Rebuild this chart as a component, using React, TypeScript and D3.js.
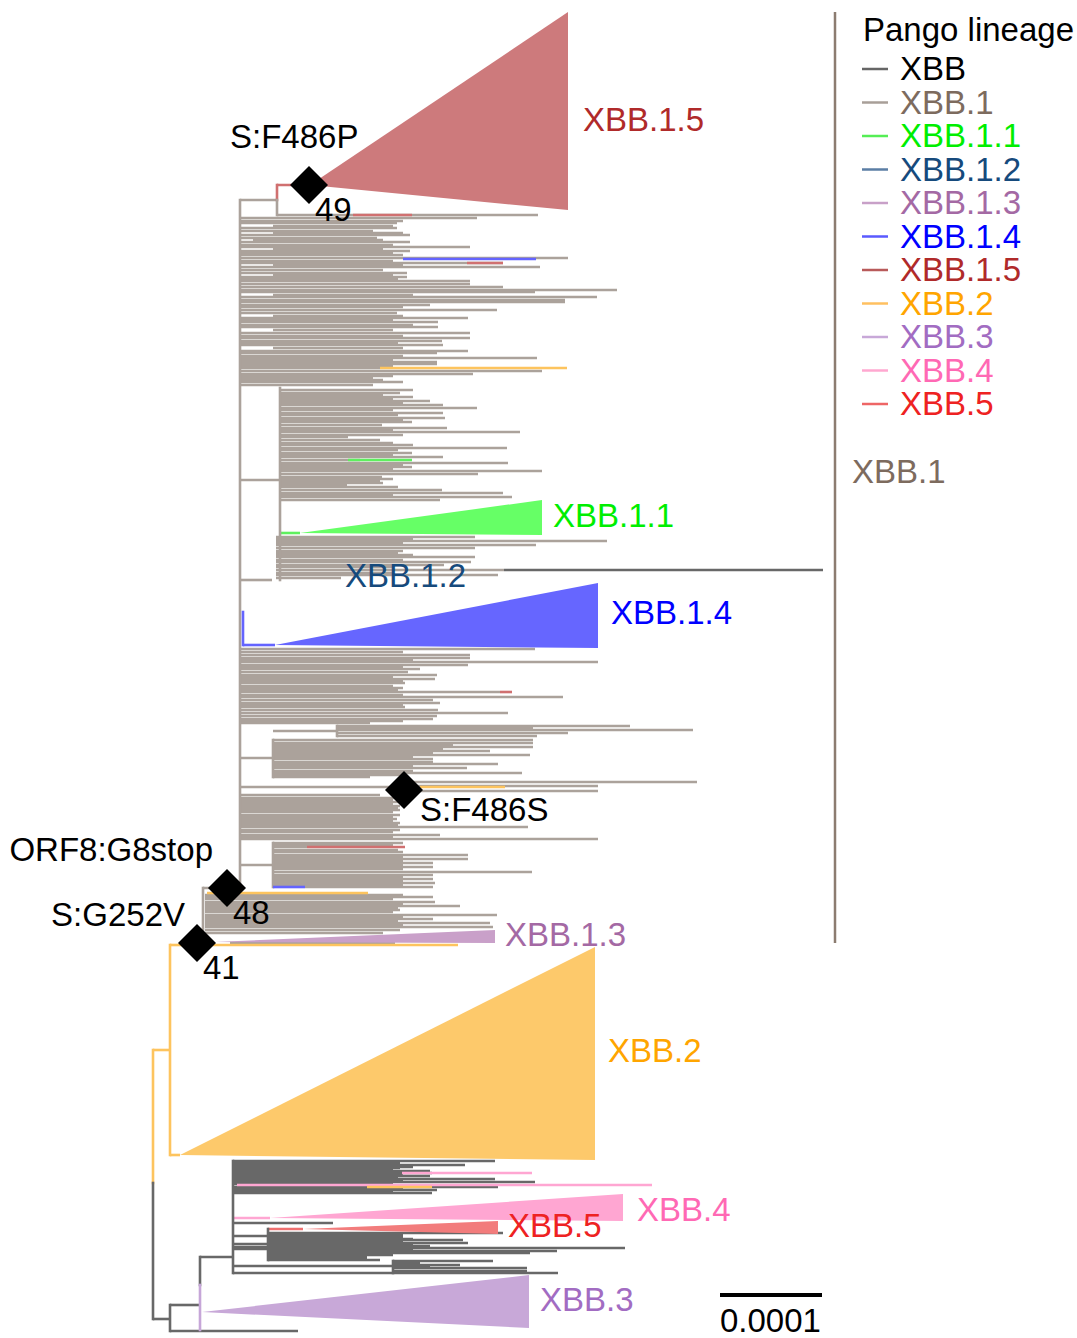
import React from "react";
import * as d3 from "d3";

// ---------- categories ----------
const LINEAGES = ["XBB", "XBB.1", "XBB.1.1", "XBB.1.2", "XBB.1.3", "XBB.1.4", "XBB.1.5", "XBB.2", "XBB.3", "XBB.4", "XBB.5"];

// ---------- tree data (distance units: root = 0, 102 units = 0.0001 subs/site; y = tip row) ----------
type Leaf = [number, number, number]; // [tipRow, fromDist, toDist]

const XBB1_LEAVES: Leaf[] = [
  [215,124,385],[218,88,324],[221,88,250],[223,88,244],[226,120,240],[228,88,244],[231,88,220],[233,120,250],[235,88,257],[238,88,224],[240,100,230],[242,88,257],[245,88,240],[247,88,317],[249,120,230],[251,88,257],[253,88,240],[255,88,250],[258,88,415],[261,88,240],[263,88,350],[265,120,250],[267,88,387],[270,88,230],[273,88,254],[275,120,240],[277,88,254],[279,88,245],[281,88,317],[284,88,317],[287,88,350],[290,88,464],[292,88,382],[295,120,260],[297,88,444],[300,88,412],[302,88,412],[305,88,277],[307,88,250],[310,88,344],[313,88,244],[316,120,250],[318,88,315],[320,88,240],[322,88,285],[325,88,260],[327,88,285],[330,120,240],[333,88,317],[336,88,250],[338,88,317],[341,88,289],[343,88,245],[345,88,290],[348,120,250],[351,88,315],[353,88,284],[356,88,250],[358,88,384],[360,88,240],[362,88,284],[364,88,284],[366,88,240],[368,88,227],[371,88,389],[374,88,320],[376,88,240],[378,88,220],[380,88,230],[382,88,250],[385,88,220],
  [390,127,260],[393,127,247],[395,127,230],[397,127,260],[399,127,240],[401,127,277],[403,127,250],[405,127,290],[408,127,324],[410,127,240],[413,127,290],[415,127,245],[418,127,292],[420,127,250],[422,127,259],[425,127,229],[428,127,294],[430,127,240],[432,127,367],[435,127,250],[437,127,195],[440,127,227],[443,127,240],[445,127,260],[448,127,354],[450,127,245],[453,127,259],[455,127,240],[457,127,290],[460,127,207],[463,127,355],[465,127,250],[467,127,259],[469,127,240],[471,127,389],[474,127,325],[477,127,229],[479,127,240],[481,127,227],[483,127,230],[485,127,194],[487,127,245],[490,127,289],[493,127,350],[495,127,240],[497,127,359],[500,127,287],
  [537,123,322],[539,123,260],[541,123,454],[543,123,250],[545,123,383],[548,123,322],[551,123,250],[553,123,245],[555,123,260],[557,123,322],[560,123,250],[562,123,318],[565,123,291],[567,123,240],[570,123,351],[573,123,240],[575,123,345],[578,123,188],[580,88,119],
  [649,88,382],[652,88,250],[655,88,317],[658,88,317],[660,88,260],[662,88,445],[665,88,315],[667,88,250],[669,88,267],[672,88,255],[675,88,284],[677,88,240],[679,88,282],[681,88,250],[683,88,252],[686,88,240],[688,88,250],[690,88,245],[692,88,347],[695,88,250],[697,88,410],[700,88,280],[703,88,287],[705,88,250],[707,88,252],[710,88,285],[713,88,355],[716,88,284],[719,88,280],[721,88,250],[723,88,217],
  [726,184,477],[728,184,380],[730,184,540],[733,184,415],[736,184,384],[740,120,380],[743,120,380],[745,120,300],[747,120,380],[749,120,290],[751,120,337],[753,120,280],[755,120,377],[757,120,260],[759,120,280],[762,120,280],[764,120,345],[766,120,260],[768,120,314],[771,120,260],[773,120,369],[775,120,250],[777,120,217],
  [782,250,544],[786,250,445],[791,250,445],
  [795,88,227],[798,88,247],[800,88,240],[802,88,247],[804,88,240],[806,88,247],[808,88,245],[810,88,247],[812,88,240],[815,88,247],[817,88,240],[819,88,244],[821,88,240],[823,88,247],[825,88,245],[827,88,375],[830,88,247],[832,88,240],[835,88,287],[837,88,240],[839,88,445],
  [843,120,250],[845,120,240],[847,120,154],[850,120,245],[852,120,250],[855,120,315],[857,120,250],[859,120,315],[861,120,250],[863,120,280],[865,120,250],[867,120,280],[869,120,250],[872,120,379],[875,120,280],[877,120,250],[879,120,280],[881,120,250],[883,120,282],[885,120,250],[887,152,280],
  [895,52,250],[897,52,280],[899,52,240],[902,52,282],[904,52,250],[906,52,307],[908,52,245],[910,52,247],[912,52,240],[915,52,344],[917,52,250],[919,52,280],[921,52,245],[923,52,337],[925,52,250],[927,52,340],[930,52,247],[933,52,230],[943,77,242],
];

const XBB_LEAVES: Leaf[] = [
  [1161,80,342],[1163,80,247],[1165,80,312],[1167,80,260],[1168,80,247],[1170,80,240],[1171,80,277],[1173,80,279],[1175,80,250],[1176,80,277],[1178,80,245],[1179,80,342],[1181,80,250],[1182,80,382],[1184,80,240],[1187,80,345],[1189,80,250],[1190,80,284],[1192,80,240],[1193,80,279],
  [1223,80,180],[1236,80,115],[1244,80,115],[1249,80,115],
  [1233,115,350],[1235,115,250],[1237,115,250],[1239,115,260],[1240,115,310],[1242,115,250],[1243,115,315],[1245,115,260],[1246,115,277],[1248,115,472],[1250,115,260],[1251,115,404],[1253,115,377],[1255,115,240],[1256,115,214],[1258,115,214],[1260,115,227],
  [1261,240,340],[1263,240,267],[1265,240,307],[1267,240,277],[1268,240,374],[1271,240,374],[1273,80,405],
  [570,351,670],
];

// coloured tips inside other clades: [lineage, tipRow, fromDist, toDist]
const COLORED_TIPS: [string, number, number, number][] = [
  ["XBB.1.4", 259, 250, 383], ["XBB.1.5", 263, 314, 350], ["XBB.1.5", 215, 200, 259],
  ["XBB.2", 368, 227, 414], ["XBB.1.1", 460, 195, 259], ["XBB.1.5", 692, 347, 359],
  ["XBB.2", 787, 267, 352], ["XBB.1.5", 847, 154, 252], ["XBB.1.4", 887, 120, 152],
  ["XBB.2", 893, 54, 215], ["XBB.2", 945, 47, 305],
  ["XBB.4", 1173, 249, 379], ["XBB.4", 1185, 84, 499], ["XBB.2", 1187, 214, 279],
];

// internal horizontal branches: [lineage, row, fromDist, toDist]
const STEMS: [string, number, number, number][] = [
  ["XBB.2", 1050, 0, 17], ["XBB.2", 1155, 17, 27], ["XBB.2", 945, 17, 47],
  ["XBB.1", 888, 50, 87], ["XBB.1", 200, 87, 124], ["XBB.1.5", 185, 124, 157],
  ["XBB.1", 480, 87, 127], ["XBB.1", 731, 120, 184], ["XBB.1", 758, 87, 120],
  ["XBB.1", 787, 87, 250], ["XBB.1", 865, 87, 120], ["XBB.1.4", 645, 90, 122],
  ["XBB.1.1", 533, 127, 147],
  ["XBB", 1319, 0, 17], ["XBB", 1305, 17, 47], ["XBB", 1331, 17, 145],
  ["XBB", 1257, 47, 80], ["XBB.4", 1218, 80, 117], ["XBB.5", 1229, 115, 150],
  ["XBB", 1247, 80, 115], ["XBB", 1266, 80, 240],
];

// vertical connectors: [lineage, dist, rowTop, rowBottom]
const CONNECTORS: [string, number, number, number][] = [
  ["XBB.2", 0, 1050, 1183], ["XBB", 0, 1183, 1319], ["XBB.2", 17, 945, 1155],
  ["XBB.1", 50, 888, 943], ["XBB.1", 87, 200, 888], ["XBB.1.5", 124, 185, 200],
  ["XBB.1", 124, 200, 215], ["XBB.1", 127, 388, 580], ["XBB.1", 184, 726, 736],
  ["XBB.1", 120, 740, 777], ["XBB.1", 250, 782, 791], ["XBB.1", 120, 843, 887],
  ["XBB.1.4", 90, 612, 645], ["XBB", 17, 1305, 1331], ["XBB", 47, 1257, 1285],
  ["XBB.3", 47, 1285, 1330], ["XBB", 80, 1161, 1273], ["XBB", 115, 1229, 1260],
  ["XBB", 240, 1261, 1273],
];

// collapsed clades: [lineage, tipDist, tipRow, maxDist, rowTop, rowBottom]
const COLLAPSED: [string, number, number, number, number, number][] = [
  ["XBB.1.5", 157, 185, 415, 12, 210],
  ["XBB.1.1", 147, 533, 389, 500, 535],
  ["XBB.1.4", 122, 645, 445, 583, 648],
  ["XBB.1.3", 62, 942, 342, 930, 943],
  ["XBB.2", 27, 1155, 442, 947, 1160],
  ["XBB.4", 117, 1218, 470, 1194, 1221],
  ["XBB.5", 150, 1229, 345, 1221, 1234],
  ["XBB.3", 49, 1312, 376, 1275, 1328],
];

// mutation markers: [mutation, count, dist, row]
const MUTATIONS: [string, string, number, number][] = [
  ["S:F486P", "49", 156, 185],
  ["S:F486S", "", 251, 790],
  ["ORF8:G8stop", "48", 74, 888],
  ["S:G252V", "41", 44, 943],
];

const SCALE_BAR_UNITS = 102;
const SCALE_BAR_LABEL = "0.0001";
const BRACKET_LABEL = "XBB.1";

// ---------- styles ----------
const BRANCH_COLOR: Record<string, string> = {
  "XBB": "#686868", "XBB.1": "#aba29b", "XBB.1.1": "#5ef05e", "XBB.1.2": "#5a7fa8",
  "XBB.1.3": "#c79fc7", "XBB.1.4": "#6464ff", "XBB.1.5": "#d07070", "XBB.2": "#fdc45e",
  "XBB.3": "#c6a6d8", "XBB.4": "#ffa6d2", "XBB.5": "#ef6f6f",
};
const FILL_COLOR: Record<string, string> = {
  "XBB.1.5": "#cd7a7c", "XBB.1.1": "#66ff66", "XBB.1.4": "#6666ff", "XBB.1.3": "#c9a0c9",
  "XBB.2": "#fdc96b", "XBB.4": "#ffa6d2", "XBB.5": "#f27c7c", "XBB.3": "#c8a8d8",
};
const TEXT_COLOR: Record<string, string> = {
  "XBB": "#000000", "XBB.1": "#7d6b5e", "XBB.1.1": "#00ee00", "XBB.1.2": "#164a7c",
  "XBB.1.3": "#a469a4", "XBB.1.4": "#0000ff", "XBB.1.5": "#b02a2a", "XBB.2": "#ffa500",
  "XBB.3": "#a26cc2", "XBB.4": "#ff69b4", "XBB.5": "#ee2222",
};
const LEGEND_LINE: Record<string, string> = {
  "XBB": "#666666", "XBB.1": "#a89f98", "XBB.1.1": "#55ee55", "XBB.1.2": "#5b7ea5",
  "XBB.1.3": "#c8a0c8", "XBB.1.4": "#5a5aff", "XBB.1.5": "#b85a5a", "XBB.2": "#ffc060",
  "XBB.3": "#c8a8d8", "XBB.4": "#ffa8d0", "XBB.5": "#ee6666",
};

// label layout (pixel positions)
const CLADE_LABEL_POS: Record<string, [number, number]> = {
  "XBB.1.5": [583, 131], "XBB.1.1": [553, 527], "XBB.1.2": [345, 587], "XBB.1.4": [611, 624],
  "XBB.1.3": [505, 946], "XBB.2": [608, 1062], "XBB.4": [637, 1221], "XBB.5": [508, 1237],
  "XBB.3": [540, 1311],
};
const MUT_LABEL_OFFSET: Record<string, [number, number, string]> = {
  "S:F486P": [-79, -37, "start"], "S:F486S": [16, 31, "start"],
  "ORF8:G8stop": [-14, -27, "end"], "S:G252V": [-12, -17, "end"],
};

const W = 1077, H = 1338;
const FONT = "'Liberation Sans', Arial, Helvetica, sans-serif";
const FS = 33;

export default function App() {
  const x = d3.scaleLinear().domain([0, 670]).range([153, 823]);
  const y = d3.scaleLinear().domain([0, H]).range([0, H]);
  const lw = 2.6;

  const tri = d3.line<[number, number]>().x(d => d[0]).y(d => d[1]);

  return (
    <svg width={W} height={H} style={{ position: "absolute", left: 0, top: 0, background: "#fff" }} fontFamily={FONT}>
      <g stroke={BRANCH_COLOR["XBB.1"]} strokeWidth={lw}>
        {XBB1_LEAVES.map((d, i) => (
          <line key={i} x1={x(d[1])} x2={x(d[2])} y1={y(d[0])} y2={y(d[0])} />
        ))}
      </g>
      <g stroke={BRANCH_COLOR["XBB"]} strokeWidth={lw}>
        {XBB_LEAVES.map((d, i) => (
          <line key={i} x1={x(d[1])} x2={x(d[2])} y1={y(d[0])} y2={y(d[0])} />
        ))}
      </g>
      {STEMS.map((d, i) => (
        <line key={"s" + i} x1={x(d[2])} x2={x(d[3])} y1={y(d[1])} y2={y(d[1])} stroke={BRANCH_COLOR[d[0]]} strokeWidth={lw} />
      ))}
      {CONNECTORS.map((d, i) => (
        <line key={"c" + i} x1={x(d[1])} x2={x(d[1])} y1={y(d[2]) - lw / 2} y2={y(d[3]) + lw / 2} stroke={BRANCH_COLOR[d[0]]} strokeWidth={lw} />
      ))}
      {COLORED_TIPS.map((d, i) => (
        <line key={"t" + i} x1={x(d[2])} x2={x(d[3])} y1={y(d[1])} y2={y(d[1])} stroke={BRANCH_COLOR[d[0]]} strokeWidth={lw} />
      ))}
      {COLLAPSED.map((d, i) => (
        <path key={"p" + i}
          d={tri([[x(d[1]), y(d[2])], [x(d[3]), y(d[4])], [x(d[3]), y(d[5])]])! + "Z"}
          fill={FILL_COLOR[d[0]]} />
      ))}

      {COLLAPSED.map((d) => d[0]).concat(["XBB.1.2"]).map((k) => (
        <text key={"cl" + k} x={CLADE_LABEL_POS[k][0]} y={CLADE_LABEL_POS[k][1]} fontSize={FS} fill={TEXT_COLOR[k]}>{k}</text>
      ))}

      {MUTATIONS.map((m) => {
        const cx = x(m[2]), cy = y(m[3]), r = 19;
        const off = MUT_LABEL_OFFSET[m[0]];
        return (
          <g key={m[0]}>
            <path d={`M${cx},${cy - r}L${cx + r},${cy}L${cx},${cy + r}L${cx - r},${cy}Z`} fill="#000" />
            <text x={cx + off[0]} y={cy + off[1]} fontSize={FS} textAnchor={off[2] as any} fill="#000">{m[0]}</text>
            {m[1] && <text x={cx + 6} y={cy + 36} fontSize={FS} fill="#000">{m[1]}</text>}
          </g>
        );
      })}

      <line x1={835} x2={835} y1={y(12)} y2={y(943)} stroke="#8c7c70" strokeWidth={2.5} />
      <text x={852} y={483} fontSize={FS} fill={TEXT_COLOR["XBB.1"]}>{BRACKET_LABEL}</text>

      <text x={863} y={41} fontSize={FS} fill="#000">Pango lineage</text>
      {LINEAGES.map((k, i) => {
        const by = 80 + i * 33.5;
        return (
          <g key={"lg" + k}>
            <line x1={862} x2={888} y1={by - 11} y2={by - 11} stroke={LEGEND_LINE[k]} strokeWidth={2.5} />
            <text x={900} y={by} fontSize={FS} fill={TEXT_COLOR[k]}>{k}</text>
          </g>
        );
      })}

      <line x1={720} x2={720 + (x(SCALE_BAR_UNITS) - x(0))} y1={1295} y2={1295} stroke="#000" strokeWidth={4} />
      <text x={720} y={1332} fontSize={FS} fill="#000">{SCALE_BAR_LABEL}</text>
    </svg>
  );
}
